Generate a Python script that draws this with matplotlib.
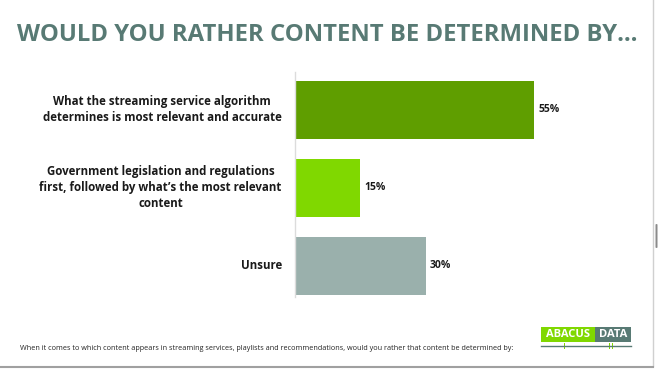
import matplotlib
matplotlib.use("Agg")
import matplotlib.pyplot as plt
from matplotlib.patches import Rectangle, FancyBboxPatch

categories = [
    "What the streaming service algorithm\ndetermines is most relevant and accurate",
    "Government legislation and regulations\nfirst, followed by what\u2019s the most relevant\ncontent",
    "Unsure",
]
values = [55, 15, 30]
value_labels = ["55%", "15%", "30%"]
colors = ["#5f9e00", "#80d800", "#9ab0ac"]

title = "WOULD YOU RATHER CONTENT BE DETERMINED BY\u2026"
footnote = ("When it comes to which content appears in streaming services, playlists and "
            "recommendations, would you rather that content be determined by:")

FONT = "Open Sans"

W, H = 659, 370
fig = plt.figure(figsize=(W / 100, H / 100), dpi=100)
fig.patch.set_facecolor("white")

def fx(px):
    return px / W

def fy(py):
    return 1 - py / H

# axes: left 295px, right 643px, top 72px, bottom 297px
ax = fig.add_axes([fx(295), fy(297), fx(643) - fx(295), fy(72) - fy(297)])
ypos = list(range(len(values)))
ax.barh(ypos, values, height=0.74, color=colors, edgecolor="none")
ax.set_xlim(0, 80)
ax.set_ylim(2.398, -0.487)
for s in ["top", "right", "bottom"]:
    ax.spines[s].set_visible(False)
ax.spines["left"].set_color("#dcdcdc")
ax.spines["left"].set_linewidth(1.0)
ax.set_xticks([])
ax.set_yticks([])

for y, v, lab in zip(ypos, values, value_labels):
    ax.annotate(lab, (v, y), xytext=(3, 0), textcoords="offset points",
                ha="left", va="center", fontsize=7.5, fontweight="bold",
                color="#1a1a1a", family=FONT)

for y, cat in zip(ypos, categories):
    ax.annotate(cat, (0, y), xytext=(-9.5, 0), textcoords="offset points",
                ha="right", va="center", multialignment="center",
                fontsize=8.3, fontweight="bold", color="#1a1a1a",
                family=FONT, linespacing=1.3)

# title
fig.text(fx(17), fy(35), title, ha="left", va="center", fontsize=17.2,
         fontweight="bold", color="#587a74", family=FONT)

# footnote
fig.text(fx(20), fy(348), footnote, ha="left", va="center", fontsize=5.2,
         color="#222222", family=FONT)

# logo
fig.patches.append(Rectangle((fx(541), fy(342)), fx(595) - fx(541), fy(327) - fy(342),
                             transform=fig.transFigure, facecolor="#80d800", edgecolor="none"))
fig.patches.append(Rectangle((fx(595), fy(342)), fx(631) - fx(595), fy(327) - fy(342),
                             transform=fig.transFigure, facecolor="#587a74", edgecolor="none"))
fig.text(fx(568), fy(334.5), "ABACUS", ha="center", va="center", fontsize=8.0,
         fontweight="bold", color="white", family=FONT)
fig.text(fx(613), fy(334.5), "DATA", ha="center", va="center", fontsize=8.0,
         fontweight="bold", color="white", family=FONT)
fig.add_artist(plt.Line2D([fx(541), fx(631)], [fy(346), fy(346)], transform=fig.transFigure,
                          color="#587a74", linewidth=1.0))
for xx in [564.5, 609.5, 612.5]:
    fig.patches.append(Rectangle((fx(xx - 0.8), fy(348.5)), fx(1.6), fy(343.5) - fy(348.5),
                                 transform=fig.transFigure, facecolor="#80d800", edgecolor="none"))

# slide borders
fig.add_artist(plt.Line2D([fx(653), fx(653)], [fy(0), fy(366)], transform=fig.transFigure,
                          color="#d0d0d0", linewidth=1.0))
fig.add_artist(plt.Line2D([fx(0), fx(653)], [fy(366.5), fy(366.5)], transform=fig.transFigure,
                          color="#a0a0a0", linewidth=1.5))
fig.patches.append(FancyBboxPatch((fx(655.5), fy(248)), fx(2), fy(224) - fy(248),
                                  boxstyle="round,pad=0,rounding_size=0.002",
                                  transform=fig.transFigure, facecolor="#8a8a8a",
                                  edgecolor="none"))

fig.savefig("out.png", dpi=100, facecolor="white")
